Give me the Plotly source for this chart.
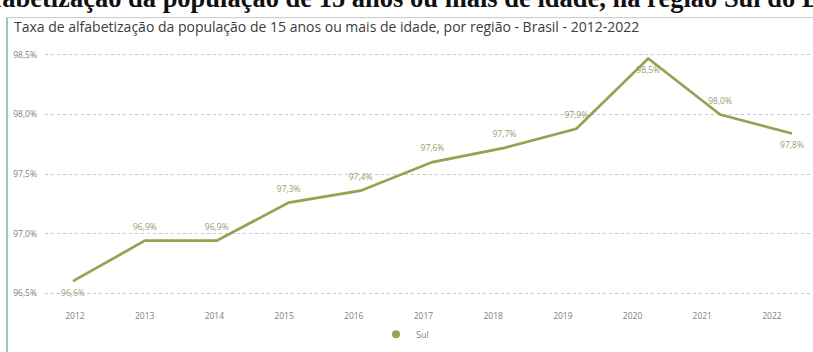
import plotly.graph_objects as go

# Literacy rate, population aged 15+, South region of Brazil
years = [2012, 2013, 2014, 2015, 2016, 2017, 2018, 2019, 2020, 2021, 2022]
rate_sul = [96.6, 96.94, 96.94, 97.26, 97.36, 97.6, 97.72, 97.88, 98.47, 98.0, 97.84]
label_pos = ["bottom center", "top center", "top center", "top center", "top center",
             "top center", "top center", "top center", "bottom center", "top center",
             "bottom center"]
y_ticks = [96.5, 97.0, 97.5, 98.0, 98.5]
y_tick_text = [f"{v:.1f}%".replace(".", ",") for v in y_ticks]

series_name = "Sul"
panel_title = ("Taxa de alfabetização da população de 15 anos ou mais de idade, "
               "por região - Brasil - 2012-2022")
page_title = ("Taxa de alfabetização da população de 15 anos ou mais de idade, "
              "na região Sul do Brasil")

W, H = 813, 352
ML, MR, MT, MB = 45, 3, 49, 48
plot_w = W - ML - MR
plot_h = H - MT - MB

LINE = "#8EA552"
UI_FONT = "Open Sans"


def px_x(p):
    return (p - ML) / plot_w


def px_y(p):
    return (H - MB - p) / plot_h


fig = go.Figure()

fig.add_trace(go.Scatter(
    x=years, y=rate_sul, mode="lines+markers+text",
    line=dict(color=LINE, width=2.7),
    marker=dict(size=12, opacity=0, color=LINE),
    text=rate_sul, texttemplate="%{y:.1f}%",
    textposition=label_pos,
    textfont=dict(family=UI_FONT, size=8.5, color="#9a9d72"),
    showlegend=False, hoverinfo="skip", cliponaxis=False,
))

# legend entry drawn as a dot
fig.add_trace(go.Scatter(
    x=[None], y=[None], mode="markers", name=series_name,
    marker=dict(color=LINE, size=8), showlegend=True,
))

# category labels live on their own overlaid axis
fig.add_trace(go.Scatter(
    x=years, y=[None] * len(years), xaxis="x2", mode="lines",
    showlegend=False, hoverinfo="skip",
))

fig.update_layout(
    width=W, height=H,
    margin=dict(l=ML, r=MR, t=MT, b=MB),
    paper_bgcolor="white", plot_bgcolor="white",
    separators=",.",
    font=dict(family=UI_FONT, color="#7a7a7a", size=9),
    xaxis=dict(range=[2011.611, 2022.25], showticklabels=False, showgrid=False,
               zeroline=False, showline=False, fixedrange=True),
    xaxis2=dict(range=[2011.57, 2022.546], overlaying="x", side="bottom",
                anchor="y", tickvals=years, ticktext=[str(y) for y in years],
                showgrid=False, zeroline=False, showline=False, ticks="",
                ticklabelstandoff=10,
                tickfont=dict(family=UI_FONT, size=8.5, color="#808080")),
    yaxis=dict(range=[96.45, 98.55], tickvals=y_ticks, ticktext=y_tick_text,
               showgrid=True, gridcolor="#c9c9c9",
               griddash="dot", gridwidth=1, zeroline=False, showline=False,
               ticks="", ticklabelstandoff=7,
               tickfont=dict(family=UI_FONT, size=8.5, color="#808080")),
    legend=dict(orientation="h", x=px_x(405), xanchor="center", y=px_y(340),
                yanchor="middle", font=dict(family=UI_FONT, size=9, color="#808080"),
                itemwidth=30, bgcolor="rgba(0,0,0,0)"),
    shapes=[
        dict(type="line", xref="paper", yref="paper",
             x0=px_x(6), x1=px_x(830), y0=px_y(17), y1=px_y(17),
             line=dict(color="#c8c8c8", width=1)),
        dict(type="line", xref="paper", yref="paper",
             x0=px_x(7), x1=px_x(7), y0=px_y(17), y1=px_y(370),
             line=dict(color="#a6c2bd", width=2)),
    ],
    annotations=[
        dict(text=panel_title, xref="paper", yref="paper",
             x=px_x(12), y=px_y(26), xanchor="left", yanchor="middle",
             showarrow=False, font=dict(family=UI_FONT, size=14, color="#3c3c3c")),
        dict(text="<b>" + page_title + "</b>", xref="paper", yref="paper",
             x=px_x(-124), y=px_y(14), xanchor="left", yanchor="bottom",
             showarrow=False,
             font=dict(family="Liberation Serif", size=26.5, color="#111111")),
    ],
)

fig.write_html("out.html")
